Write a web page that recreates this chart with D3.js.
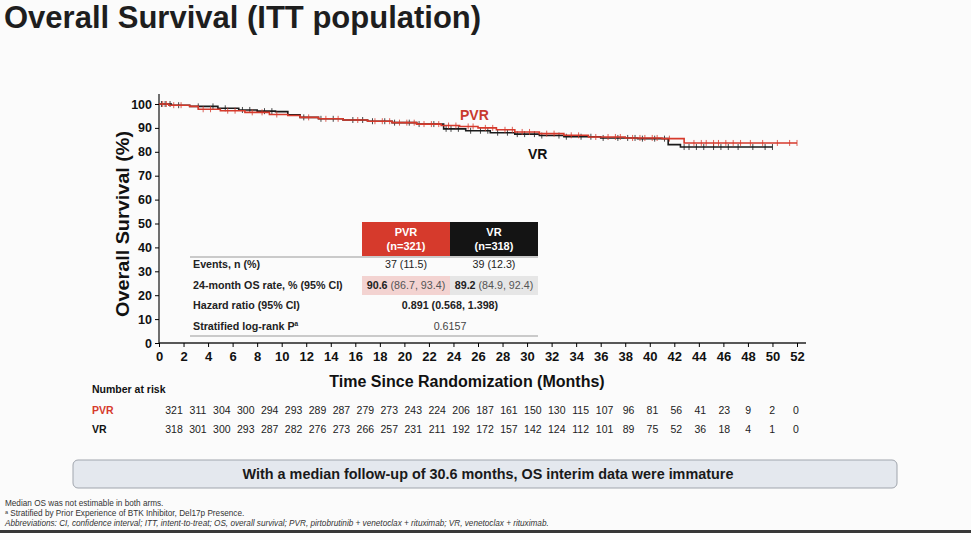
<!DOCTYPE html>
<html>
<head>
<meta charset="utf-8">
<script src="https://cdn.jsdelivr.net/npm/d3@7"></script>
<style>
  body { margin: 0; background: #fbfbfb; }
  svg { display: block; font-family: "Liberation Sans", Arial, sans-serif; }
</style>
</head>
<body>
<svg id="chart" width="971" height="533"></svg>
<script>
// KM step points (months, % surviving)
var pvrTimes = [0, 0.8, 2.5, 3.2, 5, 7, 9, 10.5, 11.5, 13, 15, 17, 19, 21, 23, 24.5, 26, 27.5, 29, 31, 33, 35, 38, 41, 42.8, 52];
var pvrSurv  = [100, 99.5, 99, 97.8, 97.2, 96.5, 95.6, 95.2, 94.4, 93.8, 93.3, 92.8, 92.2, 91.6, 91, 90.6, 90, 89.2, 88.3, 87.6, 86.9, 86.2, 85.8, 85.5, 83.7, 83.7];
var vrTimes  = [0, 1, 2.5, 4.8, 6.5, 8, 9.5, 10.5, 11.5, 13, 15, 17, 19, 21, 23.2, 25, 27, 29, 31, 33, 36, 39, 41.5, 42.5, 50];
var vrSurv   = [100, 99.5, 99, 98.2, 97.5, 97, 96.8, 95.5, 94.4, 93.8, 93.3, 92.8, 92.2, 91.6, 89.6, 88.8, 88, 87.4, 86.8, 86.3, 85.8, 85.5, 83, 82, 82];

// censor marks (months)
var pvrCensor = [0.3, 0.6, 1.2, 1.8, 3.6, 4.2, 5.6, 6.2, 7.6, 8.4, 9.6, 12.2, 13.6, 14.6, 16.2, 17.6, 18.2, 18.8, 19.6, 20.2, 20.8, 21.6, 22.2, 22.8, 23.6, 24.2, 25.2, 25.6, 26.6, 27.2, 28.2, 28.8, 29.6, 30.2, 31.6, 32.2, 33.6, 34.2, 35.6, 36.6, 37.2, 37.6, 38.6, 39.2, 39.6, 40.2, 40.6, 41.6, 43.6, 44.2, 44.6, 45.2, 45.6, 46.2, 46.8, 47.4, 48.2, 49.2, 50.4, 51.4, 52];
var vrCensor  = [0.2, 0.5, 0.9, 1.6, 3.2, 4.4, 5.4, 6.8, 7.4, 8.6, 9.2, 11.8, 13.2, 14.2, 15.8, 16.6, 17.4, 18.4, 19.2, 20.4, 21.2, 22.4, 23.4, 23.8, 24.4, 25.4, 26.2, 26.8, 27.6, 28.4, 29.2, 29.8, 30.6, 31.2, 32.6, 33.2, 34.4, 35.2, 36.2, 37.4, 38.2, 38.8, 39.4, 40.4, 41.2, 42.8, 43.2, 43.8, 44.4, 45.2, 45.8, 46.4, 47.2, 48.4, 49.4, 50];

var xTicks = d3.range(0, 53, 2);
var yTicks = d3.range(0, 101, 10);

// number at risk
var riskTimes = d3.range(0, 53, 2);
var riskPVR = [321, 311, 304, 300, 294, 293, 289, 287, 279, 273, 243, 224, 206, 187, 161, 150, 130, 115, 107, 96, 81, 56, 41, 23, 9, 2, 0];
var riskVR  = [318, 301, 300, 293, 287, 282, 276, 273, 266, 257, 231, 211, 192, 172, 157, 142, 124, 112, 101, 89, 75, 52, 36, 18, 4, 1, 0];

// summary table
var tableArms = ["PVR", "VR"];
var tableN = ["(n=321)", "(n=318)"];
var tableRows = ["Events, n (%)", "24-month OS rate, % (95% CI)", "Hazard ratio (95% CI)", "Stratified log-rank P"];
var eventsVals = ["37 (11.5)", "39 (12.3)"];
var osRateBold = ["90.6", "89.2"];
var osRateCI = [" (86.7, 93.4)", " (84.9, 92.4)"];
var hazardText = "0.891 (0.568, 1.398)";
var pValueText = "0.6157";

var red = "#d63a2c";
var dark = "#1b1b1b";

var svg = d3.select("#chart");

// title
svg.append("text")
    .attr("x", 4).attr("y", 28)
    .attr("font-size", 31).attr("font-weight", "bold").attr("fill", "#1e1e1e")
    .text("Overall Survival (ITT population)");

// scales
var x = d3.scaleLinear().domain([0, 52]).range([159, 797]);
var y = d3.scaleLinear().domain([0, 100]).range([343, 104]);

// axes
var xAxis = svg.append("g")
    .attr("transform", "translate(0,343)")
    .call(d3.axisBottom(x).tickValues(xTicks).tickSize(4).tickSizeOuter(0).tickPadding(5));
xAxis.select(".domain").attr("d", "M159,0H806").attr("stroke", "#222").attr("stroke-width", 1.3);
xAxis.selectAll("text").attr("font-size", 13).attr("font-weight", "bold").attr("fill", "#111")
    .attr("font-family", "Liberation Sans, Arial, sans-serif");

var yAxis = svg.append("g")
    .attr("transform", "translate(159,0)")
    .call(d3.axisLeft(y).tickValues(yTicks).tickSize(4).tickSizeOuter(0).tickPadding(3));
yAxis.select(".domain").attr("d", "M0,94V343").attr("stroke", "#222").attr("stroke-width", 1.3);
yAxis.selectAll("text").attr("font-size", 12.5).attr("font-weight", "bold").attr("fill", "#111")
    .attr("font-family", "Liberation Sans, Arial, sans-serif");

// axis titles
svg.append("text")
    .attr("x", 467).attr("y", 387).attr("text-anchor", "middle")
    .attr("font-size", 16).attr("font-weight", "bold").attr("fill", "#111")
    .text("Time Since Randomization (Months)");
svg.append("text")
    .attr("transform", "translate(129,224) rotate(-90)").attr("text-anchor", "middle")
    .attr("font-size", 17.5).attr("font-weight", "bold").attr("fill", "#111")
    .attr("textLength", 186).attr("lengthAdjust", "spacingAndGlyphs")
    .text("Overall Survival (%)");

// KM curves
function stepPoints(times, surv) {
    return times.map(function (t, i) { return [t, surv[i]]; });
}
function survAt(times, surv, t) {
    var i = d3.bisectRight(times, t) - 1;
    return surv[Math.max(0, i)];
}
var line = d3.line().x(d => x(d[0])).y(d => y(d[1])).curve(d3.curveStepAfter);

function drawArm(times, surv, censor, color) {
    var g = svg.append("g");
    g.append("path")
        .datum(stepPoints(times, surv))
        .attr("d", line)
        .attr("fill", "none").attr("stroke", color).attr("stroke-width", 1.6);
    g.selectAll("line.cens")
        .data(censor)
        .enter().append("line")
        .attr("x1", d => x(d)).attr("x2", d => x(d))
        .attr("y1", d => y(survAt(times, surv, d)) - 3)
        .attr("y2", d => y(survAt(times, surv, d)) + 3)
        .attr("stroke", color).attr("stroke-width", 1).attr("opacity", 0.8);
}
drawArm(vrTimes, vrSurv, vrCensor, dark);
drawArm(pvrTimes, pvrSurv, pvrCensor, red);

// curve labels
svg.append("text").attr("x", 460).attr("y", 120)
    .attr("font-size", 14).attr("font-weight", "bold").attr("fill", "#c83a2e").text("PVR");
svg.append("text").attr("x", 528).attr("y", 159)
    .attr("font-size", 14).attr("font-weight", "bold").attr("fill", "#111").text("VR");

// summary table
var tb = svg.append("g").attr("font-size", 10.7).attr("fill", "#222");
var colX = [362, 450];
var colW = 88;
tableArms.forEach(function (arm, i) {
    tb.append("rect").attr("x", colX[i]).attr("y", 222).attr("width", colW).attr("height", 34)
        .attr("fill", i === 0 ? red : "#141414");
    tb.append("text").attr("x", colX[i] + colW / 2).attr("y", 236).attr("text-anchor", "middle")
        .attr("fill", "#fff").attr("font-weight", "bold").attr("font-size", 11).text(arm);
    tb.append("text").attr("x", colX[i] + colW / 2).attr("y", 250).attr("text-anchor", "middle")
        .attr("fill", "#fff").attr("font-weight", "bold").attr("font-size", 11).text(tableN[i]);
});
tb.append("line").attr("x1", 190).attr("x2", 538).attr("y1", 257).attr("y2", 257).attr("stroke", "#999").attr("stroke-width", 1);
tb.append("line").attr("x1", 190).attr("x2", 538).attr("y1", 336).attr("y2", 336).attr("stroke", "#999").attr("stroke-width", 1);
// shaded OS rate cells
tb.append("rect").attr("x", 362).attr("y", 276).attr("width", 88).attr("height", 19).attr("fill", "#f3d3d1");
tb.append("rect").attr("x", 450).attr("y", 276).attr("width", 88).attr("height", 19).attr("fill", "#e6e6e6");

var rowY = [268, 289, 309, 330];
tableRows.forEach(function (r, i) {
    var t = tb.append("text").attr("x", 193).attr("y", rowY[i]).attr("font-weight", "bold").text(r);
    if (i === 3) t.append("tspan").attr("font-size", 6.5).attr("dy", -4).text("a");
});
eventsVals.forEach(function (v, i) {
    tb.append("text").attr("x", colX[i] + colW / 2).attr("y", rowY[0]).attr("text-anchor", "middle").text(v);
});
osRateBold.forEach(function (v, i) {
    var t = tb.append("text").attr("x", colX[i] + colW / 2).attr("y", rowY[1]).attr("text-anchor", "middle");
    t.append("tspan").attr("font-weight", "bold").text(v);
    t.append("tspan").attr("fill", "#555").text(osRateCI[i]);
});
tb.append("text").attr("x", 450).attr("y", rowY[2]).attr("text-anchor", "middle").attr("font-weight", "bold").text(hazardText);
tb.append("text").attr("x", 450).attr("y", rowY[3]).attr("text-anchor", "middle").attr("fill", "#444").text(pValueText);

// number at risk
var xr = d3.scaleLinear().domain([0, 52]).range([174, 796]);
var risk = svg.append("g").attr("font-size", 10.5).attr("fill", "#222");
risk.append("text").attr("x", 92).attr("y", 393).attr("font-weight", "bold").attr("fill", "#111").text("Number at risk");
risk.append("text").attr("x", 92).attr("y", 414).attr("font-weight", "bold").attr("fill", red).text("PVR");
risk.append("text").attr("x", 92).attr("y", 433).attr("font-weight", "bold").attr("fill", "#111").text("VR");
risk.selectAll("text.pvr").data(riskPVR).enter().append("text")
    .attr("x", (d, i) => xr(riskTimes[i])).attr("y", 414).attr("text-anchor", "middle").text(d => d);
risk.selectAll("text.vr").data(riskVR).enter().append("text")
    .attr("x", (d, i) => xr(riskTimes[i])).attr("y", 433).attr("text-anchor", "middle").text(d => d);

// message box
svg.append("rect").attr("x", 73).attr("y", 460).attr("width", 824).attr("height", 28).attr("rx", 5)
    .attr("fill", "#e4e8ee").attr("stroke", "#a0a5ad").attr("stroke-width", 1);
svg.append("text").attr("x", 488).attr("y", 479).attr("text-anchor", "middle")
    .attr("font-size", 14.4).attr("font-weight", "bold").attr("fill", "#1a1a1a")
    .text("With a median follow-up of 30.6 months, OS interim data were immature");

// footnotes
var fn = svg.append("g").attr("font-size", 8.2).attr("fill", "#333");
fn.append("text").attr("x", 5).attr("y", 506).text("Median OS was not estimable in both arms.");
var f2 = fn.append("text").attr("x", 5).attr("y", 516);
f2.append("tspan").attr("font-size", 5.5).attr("dy", -2).text("a");
f2.append("tspan").attr("dy", 2).text(" Stratified by Prior Experience of BTK Inhibitor, Del17p Presence.");
fn.append("text").attr("x", 5).attr("y", 526).attr("font-style", "italic")
    .text("Abbreviations: CI, confidence interval; ITT, intent-to-treat; OS, overall survival; PVR, pirtobrutinib + venetoclax + rituximab; VR, venetoclax + rituximab.");

// dark bottom edge
svg.append("rect").attr("x", 0).attr("y", 530).attr("width", 971).attr("height", 3).attr("fill", "#3a3a3a");
</script>
</body>
</html>
